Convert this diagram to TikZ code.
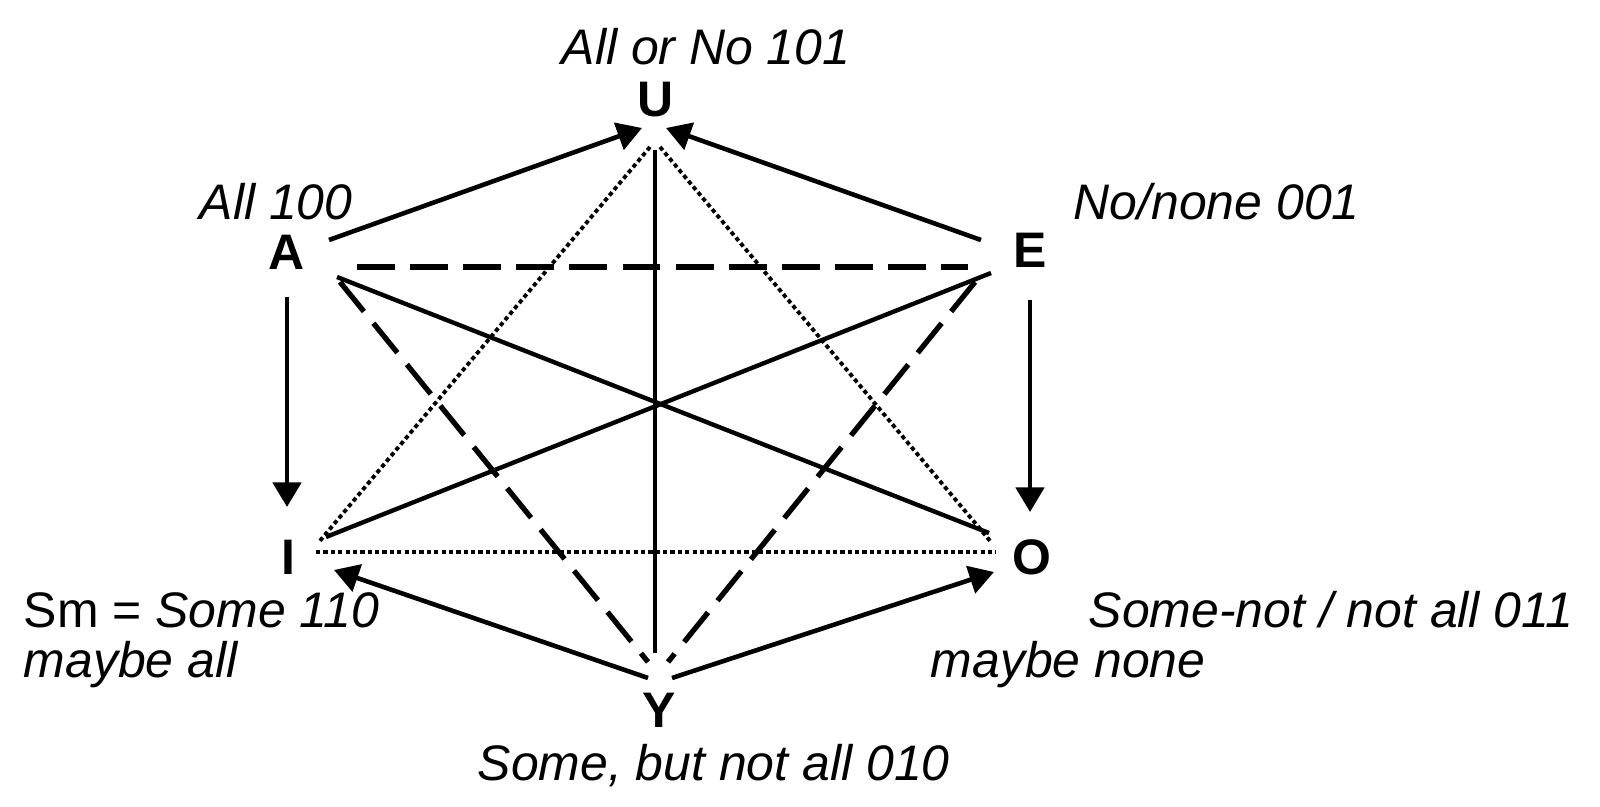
\documentclass[tikz,border=0pt]{standalone}
\usepackage{fontspec}
\setmainfont{Liberation Sans}
\usetikzlibrary{arrows.meta}
\begin{document}
\begin{tikzpicture}[x=0.01cm,y=-0.01cm,
  lab/.style={font=\fontsize{14.2}{17}\selectfont\itshape, inner sep=0pt, anchor=base west},
  letter/.style={font=\fontsize{14.2}{17}\selectfont\bfseries, inner sep=0pt, anchor=base},
  solidline/.style={line width=1.25pt},
  arr/.style={line width=1.3pt, -{Triangle[length=7pt,width=8pt]}},
  dashline/.style={line width=1.5pt, dash pattern=on 10.8pt off 4.3pt},
  dotline/.style={line width=1.1pt, dash pattern=on 1.2pt off 0.9pt}]
\useasboundingbox (0,0) rectangle (1600,807);
% vertex letters
\node[letter] (U) at (656,117) {U};
\node[letter] (A) at (287,270) {A};
\node[letter] (E) at (1030,268) {E};
\node[letter] (I) at (288,575) {I};
\node[letter] (O) at (1032,575) {O};
\node[letter] (Y) at (659,728) {Y};
% labels
\node[lab] (lU) at (561,65) {All or No 101};
\node[lab] (lA) at (199,220) {All 100};
\node[lab] (lE) at (1073,220) {No/none 001};
\node[lab] (lI) at (23,628) {\upshape Sm = \itshape Some 110};
\node[lab] (lI2) at (23,678) {maybe all};
\node[lab] (lO) at (1088,628) {Some-not / not all 011};
\node[lab] (lO2) at (930,678) {maybe none};
\node[lab] (lY) at (477,780) {Some, but not all 010};
% connector end points
\coordinate (AU1) at (329,240); \coordinate (AU2) at (642,128);
\coordinate (EU1) at (981,240); \coordinate (EU2) at (666,128);
\coordinate (UY1) at (655,150); \coordinate (UY2) at (655,653);
\coordinate (UI1) at (650,147); \coordinate (UI2) at (319,542);
\coordinate (UO1) at (660,147); \coordinate (UO2) at (991,542);
\coordinate (AE1) at (357,267); \coordinate (AE2) at (968,267);
\coordinate (AO1) at (337,277); \coordinate (AO2) at (989,533);
\coordinate (EI1) at (991,273); \coordinate (EI2) at (326,537);
\coordinate (AY1) at (340,282); \coordinate (AY2) at (648,662);
\coordinate (EY1) at (975,282); \coordinate (EY2) at (668,662);
\coordinate (IO1) at (316,552); \coordinate (IO2) at (996,552);
\coordinate (YI1) at (648,678); \coordinate (YI2) at (334,570);
\coordinate (YO1) at (672,678); \coordinate (YO2) at (994,572);
\coordinate (AI1) at (287,297); \coordinate (AI2) at (287,507);
\coordinate (EO1) at (1030,300); \coordinate (EO2) at (1030,512);
% connectors
\draw[arr] (AU1) -- (AU2);
\draw[arr] (EU1) -- (EU2);
\draw[solidline] (UY1) -- (UY2);
\draw[dotline] (UI1) -- (UI2);
\draw[dotline] (UO1) -- (UO2);
\draw[dashline] (AE1) -- (AE2);
\draw[solidline] (AO1) -- (AO2);
\draw[solidline] (EI1) -- (EI2);
\draw[dashline] (AY1) -- (AY2);
\draw[dashline] (EY1) -- (EY2);
\draw[dotline] (IO1) -- (IO2);
\draw[arr] (YI1) -- (YI2);
\draw[arr] (YO1) -- (YO2);
\draw[arr] (AI1) -- (AI2);
\draw[arr] (EO1) -- (EO2);
\end{tikzpicture}
\end{document}
